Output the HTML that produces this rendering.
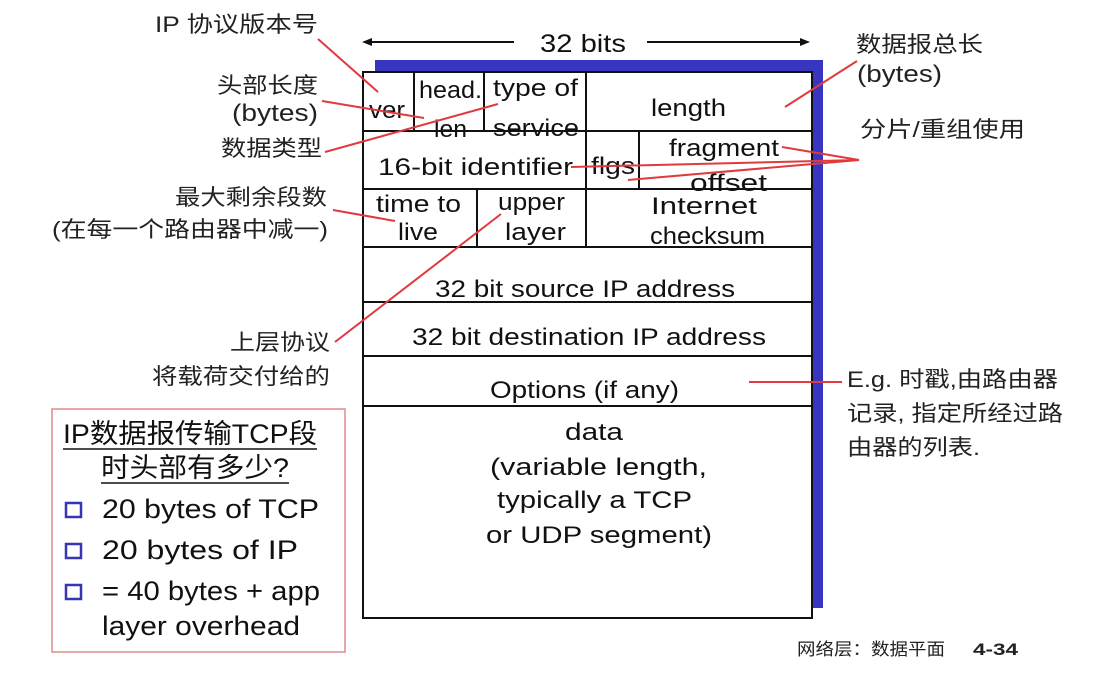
<!DOCTYPE html>
<html><head><meta charset="utf-8"><style>
html,body{margin:0;padding:0;background:#fff;}
svg{display:block;}
.t{font-family:"Liberation Sans","Noto Sans CJK SC",sans-serif;fill:#111;}
.c{font-family:"Liberation Sans","Noto Sans CJK SC",sans-serif;fill:#222;}
</style></head><body>
<svg width="1114" height="700" viewBox="0 0 1114 700" xmlns="http://www.w3.org/2000/svg">
<rect width="1114" height="700" fill="#fff"/>
<!-- blue shadow -->
<rect x="375" y="60" width="448" height="548" fill="#3835c0"/>
<!-- main box -->
<rect x="363" y="72" width="449" height="546" fill="#fff" stroke="#111" stroke-width="2"/>
<g stroke="#111" stroke-width="2">
<line x1="363" y1="131" x2="812" y2="131"/>
<line x1="363" y1="189" x2="812" y2="189"/>
<line x1="363" y1="247" x2="812" y2="247"/>
<line x1="363" y1="302" x2="812" y2="302"/>
<line x1="363" y1="356" x2="812" y2="356"/>
<line x1="363" y1="406" x2="812" y2="406"/>
<line x1="414" y1="72" x2="414" y2="131"/>
<line x1="484" y1="72" x2="484" y2="131"/>
<line x1="586" y1="72" x2="586" y2="247"/>
<line x1="639" y1="131" x2="639" y2="189"/>
<line x1="477" y1="189" x2="477" y2="247"/>
</g>
<!-- 32 bits arrow -->
<g stroke="#111" stroke-width="2">
<line x1="368" y1="42" x2="514" y2="42"/>
<line x1="647" y1="42" x2="803" y2="42"/>
</g>
<polygon points="362,42 372,38 372,46" fill="#111"/>
<polygon points="810,42 800,38 800,46" fill="#111"/>
<text class="t" x="540" y="52" font-size="25" textLength="86" lengthAdjust="spacingAndGlyphs">32 bits</text>

<!-- cell texts -->
<g class="t" font-size="24">
<text class="t" x="369" y="118" textLength="36" lengthAdjust="spacingAndGlyphs">ver</text>
<text class="t" x="419" y="98" textLength="63" lengthAdjust="spacingAndGlyphs">head.</text>
<text class="t" x="434" y="137" textLength="33" lengthAdjust="spacingAndGlyphs">len</text>
<text class="t" x="493" y="96" textLength="85" lengthAdjust="spacingAndGlyphs">type of</text>
<text class="t" x="493" y="136" textLength="86" lengthAdjust="spacingAndGlyphs">service</text>
<text class="t" x="651" y="116" textLength="75" lengthAdjust="spacingAndGlyphs">length</text>
<text class="t" x="378" y="175" textLength="195" lengthAdjust="spacingAndGlyphs">16-bit identifier</text>
<text class="t" x="591" y="174" textLength="44" lengthAdjust="spacingAndGlyphs">flgs</text>
<text class="t" x="669" y="156" textLength="110" lengthAdjust="spacingAndGlyphs">fragment</text>
<text class="t" x="690" y="191" textLength="77" lengthAdjust="spacingAndGlyphs">offset</text>
<text class="t" x="376" y="212" textLength="85" lengthAdjust="spacingAndGlyphs">time to</text>
<text class="t" x="398" y="240" textLength="40" lengthAdjust="spacingAndGlyphs">live</text>
<text class="t" x="498" y="210" textLength="67" lengthAdjust="spacingAndGlyphs">upper</text>
<text class="t" x="505" y="240" textLength="61" lengthAdjust="spacingAndGlyphs">layer</text>
<text class="t" x="651" y="214" textLength="106" lengthAdjust="spacingAndGlyphs">Internet</text>
<text class="t" x="650" y="244" textLength="115" lengthAdjust="spacingAndGlyphs">checksum</text>
<text class="t" x="435" y="297" textLength="300" lengthAdjust="spacingAndGlyphs">32 bit source IP address</text>
<text class="t" x="412" y="345" textLength="354" lengthAdjust="spacingAndGlyphs">32 bit destination IP address</text>
<text class="t" x="490" y="398" textLength="189" lengthAdjust="spacingAndGlyphs">Options (if any)</text>
<text class="t" x="565" y="440" textLength="58" lengthAdjust="spacingAndGlyphs">data</text>
<text class="t" x="490" y="475" textLength="217" lengthAdjust="spacingAndGlyphs">(variable length,</text>
<text class="t" x="497" y="508" textLength="195" lengthAdjust="spacingAndGlyphs">typically a TCP</text>
<text class="t" x="486" y="543" textLength="226" lengthAdjust="spacingAndGlyphs">or UDP segment)</text>
</g>

<!-- red connector lines -->
<g stroke="#e0393e" stroke-width="2" fill="none">
<line x1="318" y1="39" x2="378" y2="92"/>
<line x1="322" y1="101" x2="424" y2="118"/>
<line x1="325" y1="152" x2="498" y2="104"/>
<line x1="857" y1="61" x2="785" y2="107"/>
<line x1="859" y1="160" x2="782" y2="147"/>
<line x1="859" y1="160" x2="571" y2="167"/>
<line x1="859" y1="160" x2="628" y2="180"/>
<line x1="333" y1="210" x2="395" y2="221"/>
<line x1="335" y1="342" x2="501" y2="214"/>
<line x1="749" y1="382" x2="842" y2="382"/>
</g>

<!-- left labels -->
<g class="c" font-size="22" text-anchor="end">
<text x="318" y="32" textLength="163" lengthAdjust="spacingAndGlyphs">IP 协议版本号</text>
<text x="318" y="93" textLength="101" lengthAdjust="spacingAndGlyphs">头部长度</text>
<text x="318" y="121" font-size="24" textLength="86" lengthAdjust="spacingAndGlyphs">(bytes)</text>
<text x="322" y="156" textLength="101" lengthAdjust="spacingAndGlyphs">数据类型</text>
<text x="327" y="205" textLength="152" lengthAdjust="spacingAndGlyphs">最大剩余段数</text>
<text x="328" y="237" textLength="276" lengthAdjust="spacingAndGlyphs">(在每一个路由器中减一)</text>
<text x="330" y="350" textLength="100" lengthAdjust="spacingAndGlyphs">上层协议</text>
<text x="330" y="384" textLength="178" lengthAdjust="spacingAndGlyphs">将载荷交付给的</text>
</g>

<!-- right labels -->
<g class="c" font-size="22">
<text x="856" y="52" textLength="127" lengthAdjust="spacingAndGlyphs">数据报总长</text>
<text x="857" y="82" font-size="24" textLength="85" lengthAdjust="spacingAndGlyphs">(bytes)</text>
<text x="860" y="137" textLength="165" lengthAdjust="spacingAndGlyphs">分片/重组使用</text>
<text x="847" y="387" textLength="211" lengthAdjust="spacingAndGlyphs">E.g. 时戳,由路由器</text>
<text x="847" y="421" textLength="216" lengthAdjust="spacingAndGlyphs">记录, 指定所经过路</text>
<text x="847" y="455" textLength="133" lengthAdjust="spacingAndGlyphs">由器的列表.</text>
</g>

<!-- bottom-left box -->
<rect x="52" y="409" width="293" height="243" fill="#fff" stroke="#e08a8a" stroke-width="1.5"/>
<g class="t" font-size="27">
<text x="63" y="443" textLength="254" lengthAdjust="spacingAndGlyphs">IP数据报传输TCP段</text>
<text x="101" y="477" textLength="188" lengthAdjust="spacingAndGlyphs">时头部有多少?</text>
<text x="102" y="518" textLength="217" lengthAdjust="spacingAndGlyphs">20 bytes of TCP</text>
<text x="102" y="559" textLength="196" lengthAdjust="spacingAndGlyphs">20 bytes of IP</text>
<text x="102" y="600" textLength="218" lengthAdjust="spacingAndGlyphs">= 40 bytes + app</text>
<text x="102" y="635" textLength="198" lengthAdjust="spacingAndGlyphs">layer overhead</text>
</g>
<g stroke="#111" stroke-width="1.5">
<line x1="63" y1="449" x2="317" y2="449"/>
<line x1="101" y1="483" x2="289" y2="483"/>
</g>
<g fill="#fff" stroke="#3535b5" stroke-width="2.5">
<rect x="66" y="503" width="15" height="14"/>
<rect x="66" y="544" width="15" height="14"/>
<rect x="66" y="585" width="15" height="14"/>
</g>

<!-- footer -->
<text class="c" x="797" y="655" font-size="17" textLength="148" lengthAdjust="spacingAndGlyphs">网络层：数据平面</text>
<text class="c" x="973" y="655" font-size="17" font-weight="bold" textLength="45" lengthAdjust="spacingAndGlyphs">4-34</text>
</svg>
</body></html>
